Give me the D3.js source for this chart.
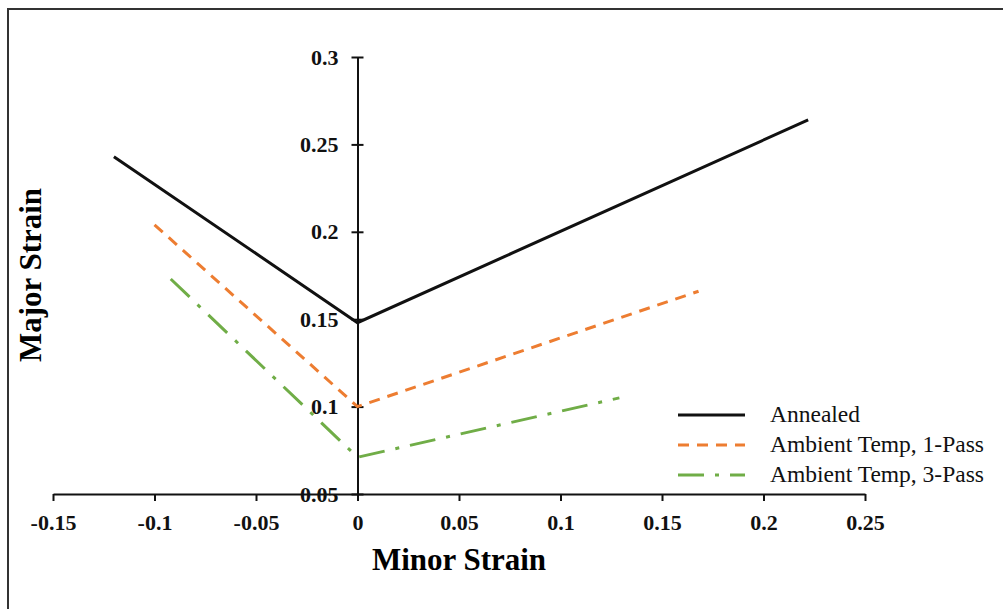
<!DOCTYPE html>
<html>
<head>
<meta charset="utf-8">
<script src="https://cdn.jsdelivr.net/npm/d3@7"></script>
<style>
  body { margin: 0; background: #fff; }
  svg { display: block; }
</style>
</head>
<body>
<div id="chart"></div>
<script>
// series: [minor strain, major strain]
const annealed = [[-0.12, 0.243], [0, 0.148], [0.222, 0.264]];
const pass1 = [[-0.1, 0.204], [0, 0.1], [0.168, 0.166]];
const pass3 = [[-0.092, 0.173], [0, 0.071], [0.129, 0.105]];

const seriesNames = ["Annealed", "Ambient Temp, 1-Pass", "Ambient Temp, 3-Pass"];
const xTicks = [-0.15, -0.1, -0.05, 0, 0.05, 0.1, 0.15, 0.2, 0.25];
const yTicks = [0.05, 0.1, 0.15, 0.2, 0.25, 0.3];

const width = 1003;
const height = 609;

const x = d3.scaleLinear().domain([-0.15, 0.25]).range([53, 865]);
const y = d3.scaleLinear().domain([0.05, 0.3]).range([494, 57]);

const svg = d3.select("#chart").append("svg")
    .attr("width", width)
    .attr("height", height);

// frame around the chart (runs off the right and bottom)
svg.append("rect")
    .attr("x", 8).attr("y", 9)
    .attr("width", 1100).attr("height", 700)
    .attr("fill", "none")
    .attr("stroke", "#333")
    .attr("stroke-width", 2);

// plain hyphen for negatives, like the original
const fmt = d => String(+d.toFixed(2));
const tickFont = "bold 22px 'Liberation Serif', 'Times New Roman', serif";

// x axis at y = 0.05
const xAxis = svg.append("g")
    .attr("transform", `translate(0,${y(0.05)})`)
    .call(d3.axisBottom(x).tickValues(xTicks).tickSize(7).tickSizeOuter(0).tickFormat(fmt));
xAxis.select(".domain").attr("stroke", "#111").attr("stroke-width", 2);
xAxis.selectAll(".tick line").attr("stroke", "#111").attr("stroke-width", 2);
xAxis.selectAll(".tick text")
    .attr("y", 36).attr("dy", 0)
    .attr("fill", "#111")
    .style("font", tickFont);

// y axis at x = 0
const yAxis = svg.append("g")
    .attr("transform", `translate(${x(0)},0)`)
    .call(d3.axisLeft(y).tickValues(yTicks).tickSize(6).tickSizeOuter(0).tickFormat(fmt));
yAxis.select(".domain").attr("stroke", "#111").attr("stroke-width", 2);
yAxis.selectAll(".tick line").attr("x1", -6).attr("x2", 6).attr("stroke", "#111").attr("stroke-width", 2);
yAxis.selectAll(".tick text")
    .attr("x", -19)
    .attr("fill", "#111")
    .style("font", tickFont);

// axis titles
svg.append("text")
    .attr("x", 459).attr("y", 570)
    .attr("text-anchor", "middle")
    .style("font", "bold 31px 'Liberation Serif', 'Times New Roman', serif")
    .text("Minor Strain");

svg.append("text")
    .attr("transform", "translate(41,275) rotate(-90)")
    .attr("text-anchor", "middle")
    .style("font", "bold 31px 'Liberation Serif', 'Times New Roman', serif")
    .text("Major Strain");

const styles = [
    { color: "#111", dash: null },
    { color: "#ED7D31", dash: "11,8" },
    { color: "#70AD47", dash: "26,11,4,11" }
];

const line = d3.line().x(d => x(d[0])).y(d => y(d[1]));

[annealed, pass1, pass3].forEach((s, i) => {
    svg.append("path")
        .datum(s)
        .attr("d", line)
        .attr("fill", "none")
        .attr("stroke", styles[i].color)
        .attr("stroke-width", 3)
        .attr("stroke-dasharray", styles[i].dash);
});

// legend
const legend = svg.append("g");
seriesNames.forEach((name, i) => {
    const ly = 415 + i * 30;
    legend.append("line")
        .attr("x1", 678).attr("x2", 745)
        .attr("y1", ly).attr("y2", ly)
        .attr("stroke", styles[i].color)
        .attr("stroke-width", 3)
        .attr("stroke-dasharray", styles[i].dash);
    legend.append("text")
        .attr("x", 770).attr("y", ly + 7)
        .style("font", "23.5px 'Liberation Serif', 'Times New Roman', serif")
        .attr("fill", "#111")
        .text(name);
});
</script>
</body>
</html>
